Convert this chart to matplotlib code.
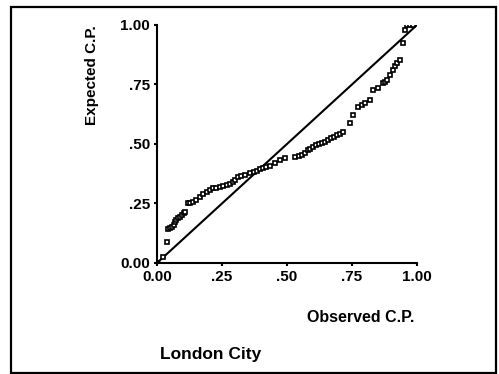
import matplotlib.pyplot as plt
from matplotlib.patches import Rectangle

plt.rcParams['font.family'] = ['Liberation Sans', 'DejaVu Sans']

# observed vs expected cumulative probability
observed = [0.023, 0.040, 0.042, 0.050, 0.058, 0.064, 0.069, 0.075, 0.081, 0.088,
            0.096, 0.102, 0.108, 0.119, 0.128, 0.138, 0.150, 0.165, 0.178, 0.192,
            0.204, 0.215, 0.228, 0.242, 0.255, 0.269, 0.280, 0.292, 0.302, 0.312,
            0.325, 0.338, 0.358, 0.372, 0.385, 0.396, 0.408, 0.420, 0.435, 0.454,
            0.473, 0.492, 0.531, 0.545, 0.558, 0.570, 0.581, 0.590, 0.600, 0.612,
            0.625, 0.635, 0.646, 0.658, 0.670, 0.680, 0.692, 0.704, 0.715, 0.742,
            0.754, 0.773, 0.787, 0.800, 0.819, 0.831, 0.850, 0.869, 0.877, 0.885,
            0.896, 0.908, 0.916, 0.923, 0.935, 0.946, 0.954, 0.962, 0.973, 0.985]
expected = [0.025, 0.088, 0.143, 0.146, 0.151, 0.160, 0.172, 0.180, 0.189, 0.195,
            0.202, 0.208, 0.214, 0.252, 0.254, 0.256, 0.266, 0.277, 0.288, 0.298,
            0.308, 0.315, 0.317, 0.319, 0.323, 0.328, 0.333, 0.340, 0.350, 0.361,
            0.366, 0.370, 0.378, 0.382, 0.387, 0.393, 0.399, 0.403, 0.408, 0.420,
            0.433, 0.441, 0.445, 0.449, 0.454, 0.464, 0.475, 0.480, 0.487, 0.495,
            0.500, 0.504, 0.510, 0.517, 0.524, 0.531, 0.538, 0.544, 0.550, 0.588,
            0.622, 0.655, 0.664, 0.672, 0.685, 0.727, 0.735, 0.756, 0.762, 0.769,
            0.790, 0.811, 0.826, 0.840, 0.853, 0.924, 0.979, 1.0, 1.0, 1.0]
ticks = [0, 0.25, 0.5, 0.75, 1.0]
tick_labels = ['0.00', '.25', '.50', '.75', '1.00']

fig = plt.figure(figsize=(4.99, 3.74), dpi=100)
fig.patches.append(Rectangle((0.022, 0.004), 0.972, 0.978, transform=fig.transFigure,
                             fill=False, edgecolor='black', linewidth=1.6))

ax = fig.add_axes([0.3146, 0.2968, 0.521, 0.6364])
ax.plot([0, 1], [0, 1], color='black', linewidth=1.5)
ax.plot(observed, expected, 's', markersize=3.5, markerfacecolor='white',
        markeredgecolor='black', markeredgewidth=1.2)
ax.plot([0], [0], 'o', color='black', markersize=4)

ax.set_xlim(0, 1)
ax.set_ylim(0, 1)
ax.spines['top'].set_visible(False)
ax.spines['right'].set_visible(False)
ax.spines['left'].set_linewidth(1.5)
ax.spines['bottom'].set_linewidth(1.5)
ax.set_xticks(ticks)
ax.set_xticklabels(tick_labels, fontsize=11, fontweight='bold')
ax.set_yticks(ticks)
ax.set_yticklabels(tick_labels, fontsize=11, fontweight='bold')
ax.tick_params(length=2, width=1.5, pad=3)

fig.text(0.184, 0.80, 'Expected C.P.', rotation=90, ha='center', va='center',
         fontsize=11, fontweight='bold')
fig.text(0.722, 0.152, 'Observed C.P.', ha='center', va='center',
         fontsize=11.5, fontweight='bold')
fig.text(0.422, 0.051, 'London City', ha='center', va='center',
         fontsize=12.5, fontweight='bold')

fig.savefig('out.png', dpi=100)
